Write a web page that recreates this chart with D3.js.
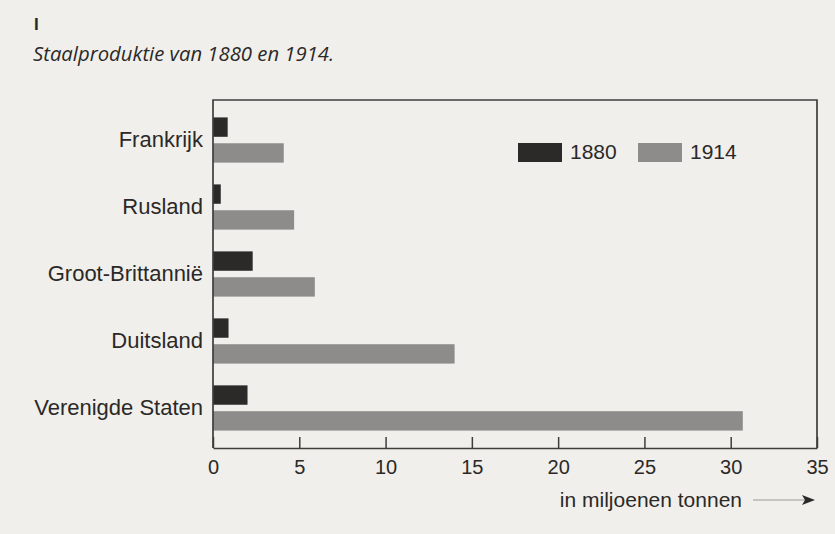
<!DOCTYPE html>
<html>
<head>
<meta charset="utf-8">
<script src="https://cdn.jsdelivr.net/npm/d3@7"></script>
<style>
  body { margin: 0; background: #f1efeb; }
  svg { display: block; }
  text { font-family: "Liberation Sans", Arial, sans-serif; fill: #2a2928; }
</style>
</head>
<body>
<svg id="chart"></svg>
<script>
// data
const countries = ["Frankrijk", "Rusland", "Groot-Brittannië", "Duitsland", "Verenigde Staten"];
const years = ["1880", "1914"];
const values1880 = [0.85, 0.45, 2.3, 0.9, 2.0];
const values1914 = [4.1, 4.7, 5.9, 14.0, 30.7];
const tickValues = [0, 5, 10, 15, 20, 25, 30, 35];

const width = 835;
const height = 534;
const plot = { left: 213, right: 817, top: 100, bottom: 448 };

const svg = d3.select("#chart")
    .attr("width", width)
    .attr("height", height);

const colors = { "1880": "#2b2a29", "1914": "#8d8c8a" };

// header
svg.append("text")
    .attr("x", 34).attr("y", 30)
    .style("font-size", "17px")
    .style("font-weight", "bold")
    .text("I");

svg.append("text")
    .attr("x", 33).attr("y", 61)
    .style("font-family", "'Open Sans', sans-serif")
    .style("font-style", "italic")
    .style("font-size", "20.3px")
    .text("Staalproduktie van 1880 en 1914.");

const x = d3.scaleLinear()
    .domain([0, 35])
    .range([plot.left, plot.right]);

const y = d3.scaleBand()
    .domain(countries)
    .range([plot.top, plot.bottom])
    .paddingInner(0.325)
    .paddingOuter(0.26);

const yInner = d3.scaleBand()
    .domain(years)
    .range([0, y.bandwidth()])
    .paddingInner(0.25);

const rows = countries.map((c, i) => ({
    country: c,
    bars: [
        { year: "1880", value: values1880[i] },
        { year: "1914", value: values1914[i] }
    ]
}));

const groups = svg.selectAll(".group")
    .data(rows)
    .enter().append("g")
    .attr("class", "group")
    .attr("transform", d => `translate(0,${y(d.country)})`);

groups.selectAll("rect")
    .data(d => d.bars)
    .enter().append("rect")
    .attr("x", x(0))
    .attr("y", d => yInner(d.year))
    .attr("width", d => x(d.value) - x(0))
    .attr("height", yInner.bandwidth())
    .attr("fill", d => colors[d.year]);

// country labels
groups.append("text")
    .attr("x", plot.left - 10)
    .attr("y", y.bandwidth() / 2)
    .attr("dy", "0.33em")
    .attr("text-anchor", "end")
    .style("font-size", "22px")
    .text(d => d.country);

// x axis with ticks pointing up into the plot
const xAxis = svg.append("g")
    .attr("transform", `translate(0,${plot.bottom})`)
    .call(d3.axisBottom(x)
        .tickValues(tickValues)
        .tickSizeInner(-11)
        .tickSizeOuter(0)
        .tickPadding(12));

xAxis.select(".domain").attr("stroke", "#3f3e3d").attr("stroke-width", 1.7);
xAxis.selectAll(".tick line").attr("stroke", "#3f3e3d").attr("stroke-width", 1.5);
xAxis.selectAll(".tick text")
    .attr("fill", "#2a2928")
    .style("font-family", "'Liberation Sans', Arial, sans-serif")
    .style("font-size", "20px");

// frame
svg.append("path")
    .attr("d", `M${plot.left},${plot.bottom}V${plot.top}H${plot.right}V${plot.bottom}`)
    .attr("fill", "none")
    .attr("stroke", "#3f3e3d")
    .attr("stroke-width", 1.7);

// legend
const legend = svg.append("g");
const legendX = [518, 638];
years.forEach((yr, i) => {
    legend.append("rect")
        .attr("x", legendX[i]).attr("y", 143)
        .attr("width", 44).attr("height", 19)
        .attr("fill", colors[yr]);
    legend.append("text")
        .attr("x", legendX[i] + 52).attr("y", 152)
        .attr("dy", "0.35em")
        .style("font-size", "21px")
        .text(yr);
});

// unit label with arrow
svg.append("text")
    .attr("x", 742).attr("y", 500)
    .attr("dy", "0.35em")
    .attr("text-anchor", "end")
    .style("font-size", "21px")
    .text("in miljoenen tonnen");

svg.append("line")
    .attr("x1", 753).attr("x2", 806)
    .attr("y1", 500).attr("y2", 500)
    .attr("stroke", "#9a9996")
    .attr("stroke-width", 1);

svg.append("path")
    .attr("d", "M802,495L815,500L802,505L805,500Z")
    .attr("fill", "#2a2928");
</script>
</body>
</html>
